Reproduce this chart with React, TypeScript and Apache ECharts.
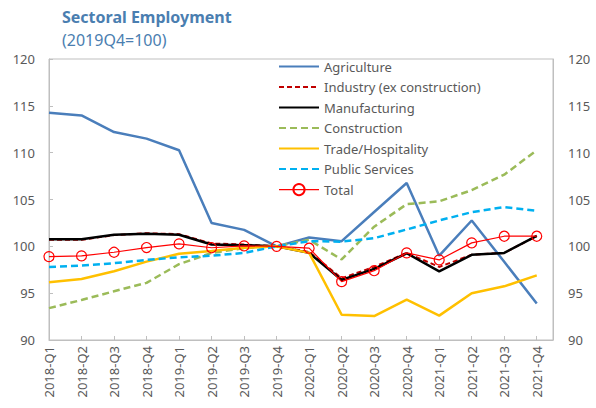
import React, { useEffect, useRef } from "react";
import * as echarts from "echarts";

const categories = [
  "2018-Q1", "2018-Q2", "2018-Q3", "2018-Q4",
  "2019-Q1", "2019-Q2", "2019-Q3", "2019-Q4",
  "2020-Q1", "2020-Q2", "2020-Q3", "2020-Q4",
  "2021-Q1", "2021-Q2", "2021-Q3", "2021-Q4",
];

const agriculture = [114.25, 113.97, 112.2, 111.5, 110.26, 102.5, 101.76, 100, 100.94, 100.55, 103.67, 106.76, 99.0, 102.76, 98.35, 93.9];
const industry = [100.7, 100.7, 101.2, 101.4, 101.3, 100.3, 100.2, 100, 99.4, 96.6, 97.8, 99.3, 97.8, 99.1, 99.3, 101.1];
const manufacturing = [100.76, 100.76, 101.23, 101.34, 101.23, 100.2, 100.12, 100, 99.3, 96.4, 97.6, 99.26, 97.33, 99.09, 99.3, 101.12];
const construction = [93.4, 94.27, 95.2, 96.1, 98.1, 99.3, 99.8, 100, 100.7, 98.6, 102.1, 104.5, 104.8, 106.0, 107.65, 110.26];
const trade = [96.16, 96.52, 97.34, 98.37, 99.2, 99.5, 99.84, 100, 99.3, 92.7, 92.56, 94.3, 92.6, 95.0, 95.73, 96.9];
const publicServices = [97.8, 97.94, 98.2, 98.55, 98.83, 99.0, 99.3, 100, 100.55, 100.5, 100.87, 101.8, 102.76, 103.65, 104.19, 103.8];
const total = [98.9, 98.98, 99.37, 99.87, 100.26, 99.85, 100.05, 100, 99.8, 96.23, 97.4, 99.3, 98.55, 100.37, 101.08, 101.08];

const yTicks = { min: 90, max: 120, interval: 5 };

const FONT = "'Noto Sans', sans-serif";
const GRAY_TEXT = "#595959";
const AXIS_GRAY = "#BFBFBF";
const TITLE_BLUE = "#4A7EB0";

const toPairs = (vals: number[]) => vals.map((v, i) => [i, v]);

export default function App() {
  const ref = useRef<HTMLDivElement>(null);

  useEffect(() => {
    if (!ref.current) return;
    const chart = echarts.init(ref.current, undefined, { renderer: "svg" });

    const lineSeries = (
      name: string,
      data: number[],
      color: string,
      width: number,
      type: any = "solid"
    ) => ({
      name,
      type: "line",
      data: toPairs(data),
      symbol: "none",
      showSymbol: false,
      lineStyle: { color, width, type },
      itemStyle: { color },
      z: 2,
    });

    const hidden = { opacity: 0, color: "transparent", borderWidth: 0 };

    chart.setOption({
      animation: false,
      backgroundColor: "#ffffff",
      textStyle: { fontFamily: FONT },
      title: {
        text: "Sectoral Employment",
        subtext: "(2019Q4=100)",
        left: 57,
        top: 4,
        itemGap: 7,
        textStyle: {
          fontFamily: FONT,
          fontSize: 16,
          fontWeight: "bold",
          color: TITLE_BLUE,
        },
        subtextStyle: {
          fontFamily: FONT,
          fontSize: 16,
          color: TITLE_BLUE,
        },
      },
      legend: {
        orient: "vertical",
        left: 273,
        top: 55,
        itemWidth: 40,
        itemHeight: 14,
        itemGap: 7.5,
        textStyle: { fontFamily: FONT, fontSize: 13, color: GRAY_TEXT },
        data: [
          { name: "Agriculture", itemStyle: hidden },
          { name: "Industry (ex construction)", itemStyle: hidden },
          { name: "Manufacturing", itemStyle: hidden },
          { name: "Construction", itemStyle: hidden },
          { name: "Trade/Hospitality", itemStyle: hidden },
          { name: "Public Services", itemStyle: hidden },
          { name: "Total", lineStyle: { width: 1.2, color: "#FF0000" } },
        ],
      },
      grid: {
        left: 49,
        right: 43,
        top: 59,
        bottom: 68,
        show: true,
        borderColor: AXIS_GRAY,
        borderWidth: 1,
        backgroundColor: "transparent",
      },
      xAxis: {
        type: "value",
        min: 0,
        max: 15.5,
        interval: 1,
        splitLine: { show: false },
        axisLine: { show: true, lineStyle: { color: AXIS_GRAY, width: 1 } },
        axisTick: { show: true, inside: true, length: 4, lineStyle: { color: AXIS_GRAY } },
        axisLabel: {
          rotate: 90,
          margin: 6,
          fontFamily: FONT,
          fontSize: 13,
          color: GRAY_TEXT,
          showMaxLabel: true,
          showMinLabel: true,
          formatter: (v: number) =>
            Number.isInteger(v) && categories[v] ? categories[v] : "",
        },
      },
      yAxis: [
        {
          type: "value",
          position: "left",
          min: yTicks.min,
          max: yTicks.max,
          interval: yTicks.interval,
          splitLine: { show: false },
          axisLine: { show: true, lineStyle: { color: AXIS_GRAY, width: 1 } },
          axisTick: { show: true, inside: true, length: 4, lineStyle: { color: AXIS_GRAY } },
          axisLabel: { margin: 14, fontFamily: FONT, fontSize: 13, color: GRAY_TEXT },
        },
        {
          type: "value",
          position: "right",
          min: yTicks.min,
          max: yTicks.max,
          interval: yTicks.interval,
          splitLine: { show: false },
          axisLine: { show: true, lineStyle: { color: AXIS_GRAY, width: 1 } },
          axisTick: { show: false },
          axisLabel: { margin: 15, fontFamily: FONT, fontSize: 13, color: GRAY_TEXT },
        },
      ],
      series: [
        lineSeries("Agriculture", agriculture, "#4A7EBB", 2.5),
        lineSeries("Industry (ex construction)", industry, "#C00000", 2, [5, 3]),
        lineSeries("Manufacturing", manufacturing, "#000000", 2.5),
        lineSeries("Construction", construction, "#9BBB59", 2.5, [7, 4]),
        lineSeries("Trade/Hospitality", trade, "#FFC000", 2.5),
        lineSeries("Public Services", publicServices, "#00B0F0", 2.5, [7, 4]),
        {
          name: "Total",
          type: "line",
          data: toPairs(total),
          symbol: "circle",
          symbolSize: 10,
          showSymbol: true,
          lineStyle: { color: "#FF0000", width: 1.2 },
          itemStyle: { color: "rgba(255,255,255,0)", borderColor: "#FF0000", borderWidth: 1.2 },
          z: 3,
        },
      ],
    });

    return () => chart.dispose();
  }, []);

  return (
    <div
      ref={ref}
      style={{ position: "fixed", left: 0, top: 0, width: 596, height: 408 }}
    />
  );
}
